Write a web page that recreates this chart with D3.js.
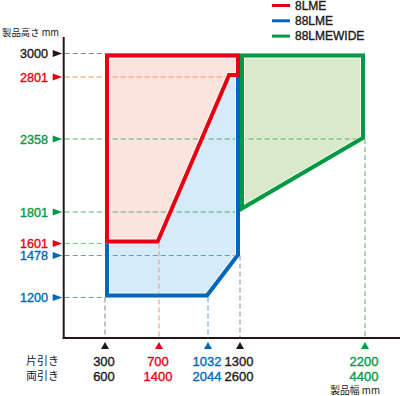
<!DOCTYPE html>
<html>
<head>
<meta charset="utf-8">
<script src="https://cdn.jsdelivr.net/npm/d3@7"></script>
<style>
  html, body { margin: 0; padding: 0; background: #fff; }
  svg { display: block; }
</style>
</head>
<body>
<svg id="chart" width="400" height="396"></svg>
<script>
// ---------------- DATA ----------------
const seriesNames = ["8LME", "88LME", "88LMEWIDE"];
// Shape outlines [width mm (片引き), height mm]
const shape8LME      = [[300, 3000], [1300, 3000], [1300, 2801], [1220, 2801], [700, 1601], [300, 1601]];
const shape88LME     = [[300, 3000], [1300, 3000], [1300, 1478], [1032, 1200], [300, 1200]];
const shape88LMEWIDE = [[1300, 3000], [2200, 3000], [2200, 2358], [1300, 1801]];

// Y ticks (製品高さ)
const yTickValues = [3000, 2801, 2358, 1801, 1601, 1478, 1200];
const yTickSeries = ["base", "8LME", "88LMEWIDE", "88LMEWIDE", "8LME", "88LME", "88LME"];
const yGuideTo    = [300, 1220, 2200, 1300, 300, 1300, 300];

// X ticks (製品幅)
const xTickSingle = [300, 700, 1032, 1300, 2200];   // 片引き
const xTickDouble = [600, 1400, 2044, 2600, 4400];  // 両引き
const xTickSeries = ["base", "8LME", "88LME", "base", "88LMEWIDE"];
const xGuideFrom  = [1200, 1601, 1200, 1478, 2358];

const rowLabels = ["片引き", "両引き"];
const yTitle = "製品高さ mm";
const xTitle = "製品幅 mm";

// ---------------- STYLE ----------------
const strokeCol = { "8LME": "#e60012", "88LME": "#0068b7", "88LMEWIDE": "#009944", "base": "#231815" };
const fillCol   = { "8LME": "#fce3de", "88LME": "#d5ebf8", "88LMEWIDE": "#d9eacb" };
const dashCol   = { "8LME": "#f0906c", "88LME": "#5b9bd8", "88LMEWIDE": "#4fb06e", "base": "#888888" };
const numFont = "'Liberation Sans', Arial, sans-serif";
const jpFont  = "'Noto Sans CJK JP', sans-serif";

const svg = d3.select("#chart");

const x = d3.scaleLinear().domain(xTickSingle).range([105, 159, 208, 240, 365]);
const ySorted = yTickValues.slice().sort((a, b) => a - b);
const y = d3.scaleLinear().domain(ySorted).range([297.5, 255.5, 243.5, 212, 139, 77, 53.5]);

const axisX0 = 63.7, axisY0 = 338, axisTop = 37;

const line = d3.line().x(d => x(d[0])).y(d => y(d[1])).curve(d3.curveLinearClosed);

const shapes = [
  { name: "88LME", pts: shape88LME },
  { name: "8LME", pts: shape8LME },
  { name: "88LMEWIDE", pts: shape88LMEWIDE }
];

const defs = svg.append("defs");
shapes.forEach((s, i) => {
  defs.append("clipPath").attr("id", "clip" + i)
    .append("path").attr("d", line(s.pts));
});

// fills
const gFill = svg.append("g");
shapes.forEach(s => {
  gFill.append("path").attr("d", line(s.pts)).attr("fill", fillCol[s.name]).attr("stroke", "none");
});

// guide dashes
const gDash = svg.append("g").attr("fill", "none").attr("stroke-width", 1).attr("stroke-dasharray", "5,3");
yTickValues.forEach((v, i) => {
  gDash.append("line")
    .attr("x1", axisX0 + 1).attr("x2", x(yGuideTo[i]))
    .attr("y1", y(v)).attr("y2", y(v))
    .attr("stroke", dashCol[yTickSeries[i]]);
});
xTickSingle.forEach((v, i) => {
  gDash.append("line")
    .attr("x1", x(v)).attr("x2", x(v))
    .attr("y1", y(xGuideFrom[i])).attr("y2", axisY0 - 1)
    .attr("stroke", dashCol[xTickSeries[i]]);
});

// outlines drawn inside the shape (clipped double-width stroke)
const gStroke = svg.append("g");
shapes.forEach((s, i) => {
  const g = gStroke.append("g").attr("clip-path", "url(#clip" + i + ")");
  g.append("path").attr("d", line(s.pts)).attr("fill", "none")
    .attr("stroke", "#ffffff").attr("stroke-opacity", 0.75).attr("stroke-width", 10).attr("stroke-linejoin", "miter");
  g.append("path").attr("d", line(s.pts)).attr("fill", "none")
    .attr("stroke", strokeCol[s.name]).attr("stroke-width", 8).attr("stroke-linejoin", "miter");
});

// axes
svg.append("line").attr("x1", axisX0).attr("x2", axisX0).attr("y1", axisTop).attr("y2", axisY0 + 1)
  .attr("stroke", "#231815").attr("stroke-width", 2);
svg.append("line").attr("x1", axisX0 - 1).attr("x2", 400).attr("y1", axisY0).attr("y2", axisY0)
  .attr("stroke", "#231815").attr("stroke-width", 2);

function thick(sel, c) {
  return sel.attr("stroke", c).attr("stroke-width", 0.35).attr("paint-order", "stroke");
}

// y ticks: triangles + labels
const gy = svg.append("g");
yTickValues.forEach((v, i) => {
  const yy = y(v), c = strokeCol[yTickSeries[i]];
  gy.append("path")
    .attr("d", `M${axisX0 - 1.5},${yy} L${axisX0 - 11},${yy - 3.6} L${axisX0 - 11},${yy + 3.6} Z`)
    .attr("fill", c);
  thick(gy.append("text")
    .attr("x", 48).attr("y", yy).attr("dy", "0.36em")
    .attr("text-anchor", "end")
    .attr("font-family", numFont).attr("font-size", 12.6)
    .attr("fill", c).text(v), c);
});

// x ticks: triangles + two label rows
const gx = svg.append("g");
xTickSingle.forEach((v, i) => {
  const xx = x(v), c = strokeCol[xTickSeries[i]];
  gx.append("path")
    .attr("d", `M${xx},${axisY0 + 4} L${xx - 4},${axisY0 + 11} L${xx + 4},${axisY0 + 11} Z`)
    .attr("fill", c);
  thick(gx.append("text").attr("x", xx - 1).attr("y", 361).attr("dy", "0.36em")
    .attr("text-anchor", "middle").attr("font-family", numFont).attr("font-size", 13)
    .attr("fill", c).text(v), c);
  thick(gx.append("text").attr("x", xx - 1).attr("y", 376).attr("dy", "0.36em")
    .attr("text-anchor", "middle").attr("font-family", numFont).attr("font-size", 13)
    .attr("fill", c).text(xTickDouble[i]), c);
});
rowLabels.forEach((t, i) => {
  svg.append("text").attr("x", 26).attr("y", 361 + i * 15).attr("dy", "0.36em")
    .attr("font-family", jpFont).attr("font-size", 11).attr("fill", "#231815").text(t);
});

// axis titles
svg.append("text").attr("x", 59).attr("y", 33).attr("dy", "0.36em").attr("text-anchor", "end")
  .attr("font-family", jpFont).attr("font-size", 9.4).attr("fill", "#231815").text(yTitle);
svg.append("text").attr("x", 380).attr("y", 390).attr("dy", "0.36em").attr("text-anchor", "end")
  .attr("font-family", jpFont).attr("font-size", 9.8).attr("fill", "#231815").text(xTitle);

// legend
const legend = svg.append("g");
seriesNames.forEach((n, i) => {
  const ly = 5.5 + i * 15.3;
  legend.append("line").attr("x1", 272).attr("x2", 290).attr("y1", ly).attr("y2", ly)
    .attr("stroke", strokeCol[n]).attr("stroke-width", 3);
  thick(legend.append("text").attr("x", 295).attr("y", ly).attr("dy", "0.36em")
    .attr("font-family", numFont).attr("font-size", 12).attr("fill", "#231815").text(n), "#231815");
});
</script>
</body>
</html>
